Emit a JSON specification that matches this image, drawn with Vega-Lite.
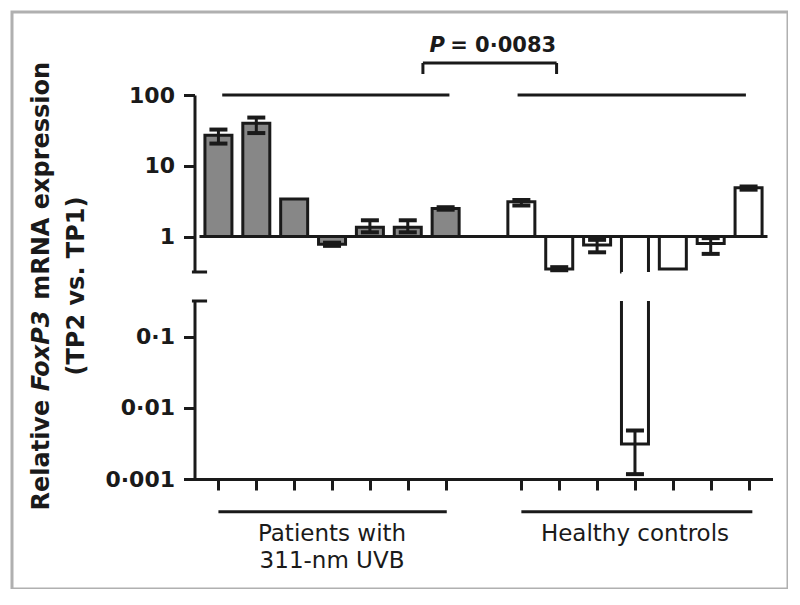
{
  "$schema": "https://vega.github.io/schema/vega-lite/v6.json",
  "width": 776,
  "height": 577,
  "autosize": "none",
  "padding": {"left": 12, "top": 12, "right": 0, "bottom": 0},
  "background": "white",
  "config": {
    "view": {"stroke": "#b0b0b0", "strokeWidth": 3, "fill": "white"},
    "axis": {
      "domainColor": "#1a1a1a", "tickColor": "#1a1a1a", "domainWidth": 3, "tickWidth": 3, "tickSize": 11,
      "labelFont": "DejaVu Sans", "labelFontWeight": "bold", "labelFontSize": 22, "labelColor": "#1a1a1a",
      "labelPadding": 9, "grid": false
    }
  },
  "datasets": {
    "bars": [
      {"pos": 1, "group": "Patients", "value": 27, "lo": 20.6, "hi": 32.5},
      {"pos": 2, "group": "Patients", "value": 40, "lo": 29, "hi": 48},
      {"pos": 3, "group": "Patients", "value": 3.4, "lo": null, "hi": null},
      {"pos": 4, "group": "Patients", "value": 0.78, "lo": 0.74, "hi": 0.82},
      {"pos": 5, "group": "Patients", "value": 1.35, "lo": 1.15, "hi": 1.7},
      {"pos": 6, "group": "Patients", "value": 1.35, "lo": 1.15, "hi": 1.7},
      {"pos": 7, "group": "Patients", "value": 2.5, "lo": 2.4, "hi": 2.6},
      {"pos": 9, "group": "Healthy controls", "value": 3.1, "lo": 2.75, "hi": 3.3},
      {"pos": 10, "group": "Healthy controls", "value": 0.35, "lo": 0.335, "hi": 0.37},
      {"pos": 11, "group": "Healthy controls", "value": 0.76, "lo": 0.6, "hi": 0.9},
      {"pos": 12, "group": "Healthy controls", "value": 0.0031, "lo": 0.00117, "hi": 0.0048},
      {"pos": 13, "group": "Healthy controls", "value": 0.35, "lo": null, "hi": null},
      {"pos": 14, "group": "Healthy controls", "value": 0.8, "lo": 0.57, "hi": 0.95},
      {"pos": 15, "group": "Healthy controls", "value": 4.9, "lo": 4.6, "hi": 5.1}
    ],
    "upperLines": [
      {"x": 0.5, "x2": 15.5, "y": 1, "y2": 1},
      {"x": 1.1, "x2": 7.1, "y": 100, "y2": 100},
      {"x": 8.9, "x2": 14.93, "y": 100, "y2": 100},
      {"x": 6.4, "x2": 9.93, "y": 283, "y2": 283},
      {"x": 6.4, "x2": 6.4, "y": 198, "y2": 283},
      {"x": 9.93, "x2": 9.93, "y": 198, "y2": 283},
      {"x": 0.3, "x2": 0.7, "y": 0.3162, "y2": 0.3162}
    ],
    "lowerLines": [
      {"x": 0.3, "x2": 0.7, "y": 0.3162, "y2": 0.3162},
      {"x": 1.0, "x2": 7.03, "y": 0.000347, "y2": 0.000347},
      {"x": 9.0, "x2": 15.1, "y": 0.000347, "y2": 0.000347}
    ],
    "groupLabels": [
      {"x": 4, "y": 0.0001346, "t": "Patients with"},
      {"x": 4, "y": 0.0000562, "t": "311-nm UVB"},
      {"x": 12, "y": 0.0001346, "t": "Healthy controls"}
    ],
    "pLabel": [
      {"x": 6.98, "rx": 7.12, "y": 401, "p": "P", "rest": "= 0·0083"}
    ],
    "yTitle": [
      {"x": -3.66, "y": 0.004969, "t": "Relative", "part": "a"},
      {"x": -3.66, "y": 0.00653, "t": "FoxP3", "part": "b"},
      {"x": -3.66, "y": 0.1281, "t": "mRNA expression", "part": "c"},
      {"x": -2.73, "y": 0.2004, "t": "(TP2 vs. TP1)", "part": "d"}
    ]
  },
  "layer": [
    {
      "data": {"name": "bars"},
      "transform": [{"filter": "datum.pos != 12"}],
      "mark": {"type": "bar", "width": 27, "stroke": "#1a1a1a", "strokeWidth": 3},
      "encoding": {
        "x": {
          "field": "pos", "type": "quantitative", "title": null,
          "scale": {"domain": [0.5, 15.5], "range": [182.5, 760.5], "nice": false, "zero": false},
          "axis": {"orient": "bottom", "offset": -110, "values": [1, 2, 3, 4, 5, 6, 7, 9, 10, 11, 12, 13, 14, 15], "labels": false, "title": null}
        },
        "y": {
          "field": "value", "type": "quantitative",
          "scale": {"type": "log", "domain": [0.3162, 100], "range": [260, 83], "nice": false, "zero": false, "clamp": true},
          "axis": {"orient": "left", "offset": -182.5, "values": [1, 10, 100], "labelExpr": "format(datum.value, 'd')", "title": null}
        },
        "y2": {"datum": 1},
        "fill": {"field": "group", "type": "nominal", "scale": {"domain": ["Patients", "Healthy controls"], "range": ["#878787", "#ffffff"]}, "legend": null}
      }
    },
    {
      "data": {"name": "bars"},
      "transform": [{"filter": "datum.pos == 12"}],
      "mark": {"type": "bar", "width": 27, "stroke": "#1a1a1a", "strokeWidth": 3, "fill": "white", "strokeDash": [0, 27, 35.4, 27, 35.4, 0]},
      "encoding": {
        "x": {"field": "pos", "type": "quantitative", "title": null},
        "y": {"field": "value", "type": "quantitative", "axis": null,
          "scale": {"type": "log", "domain": [0.3162, 100], "range": [260, 83], "nice": false, "zero": false, "clamp": true}},
        "y2": {"datum": 1}
      }
    },
    {
      "data": {"name": "bars"},
      "transform": [{"filter": "datum.lo != null && datum.pos != 12"}],
      "mark": {"type": "rule", "stroke": "#1a1a1a", "strokeWidth": 3},
      "encoding": {
        "x": {"field": "pos", "type": "quantitative", "title": null},
        "y": {"field": "lo", "type": "quantitative", "axis": null,
          "scale": {"type": "log", "domain": [0.3162, 100], "range": [260, 83], "nice": false, "zero": false}},
        "y2": {"field": "hi"}
      }
    },
    {
      "data": {"name": "bars"},
      "transform": [{"filter": "datum.lo != null && datum.pos != 12"}, {"fold": ["lo", "hi"], "as": ["k", "v"]}],
      "mark": {"type": "tick", "orient": "horizontal", "size": 18, "thickness": 4, "color": "#1a1a1a", "opacity": 1},
      "encoding": {
        "x": {"field": "pos", "type": "quantitative", "title": null},
        "y": {"field": "v", "type": "quantitative", "axis": null,
          "scale": {"type": "log", "domain": [0.3162, 100], "range": [260, 83], "nice": false, "zero": false}}
      }
    },
    {
      "data": {"name": "bars"},
      "transform": [{"filter": "datum.pos == 12"}],
      "mark": {"type": "bar", "width": 27, "stroke": "#1a1a1a", "strokeWidth": 3, "fill": "white", "strokeDash": [0, 27, 313, 0]},
      "encoding": {
        "x": {"field": "pos", "type": "quantitative", "title": null},
        "y": {"field": "value", "type": "quantitative",
          "scale": {"type": "log", "domain": [0.001, 0.3162], "range": [467, 289], "nice": false, "zero": false, "clamp": true},
          "axis": {"orient": "left", "offset": -182.5, "values": [0.001, 0.01, 0.1], "labelExpr": "replace(format(datum.value, '~g'), '.', '·')", "title": null}},
        "y2": {"datum": 1}
      }
    },
    {
      "data": {"name": "bars"},
      "transform": [{"filter": "datum.pos == 12"}],
      "mark": {"type": "rule", "stroke": "#1a1a1a", "strokeWidth": 3},
      "encoding": {
        "x": {"field": "pos", "type": "quantitative", "title": null},
        "y": {"field": "lo", "type": "quantitative", "axis": null,
          "scale": {"type": "log", "domain": [0.001, 0.3162], "range": [467, 289], "nice": false, "zero": false}},
        "y2": {"field": "hi"}
      }
    },
    {
      "data": {"name": "bars"},
      "transform": [{"filter": "datum.pos == 12"}, {"fold": ["lo", "hi"], "as": ["k", "v"]}],
      "mark": {"type": "tick", "orient": "horizontal", "size": 18, "thickness": 4, "color": "#1a1a1a", "opacity": 1},
      "encoding": {
        "x": {"field": "pos", "type": "quantitative", "title": null},
        "y": {"field": "v", "type": "quantitative", "axis": null,
          "scale": {"type": "log", "domain": [0.001, 0.3162], "range": [467, 289], "nice": false, "zero": false}}
      }
    },
    {
      "data": {"name": "upperLines"},
      "mark": {"type": "rule", "stroke": "#1a1a1a", "strokeWidth": 3},
      "encoding": {
        "x": {"field": "x", "type": "quantitative", "title": null},
        "x2": {"field": "x2"},
        "y": {"field": "y", "type": "quantitative", "axis": null,
          "scale": {"type": "log", "domain": [0.3162, 100], "range": [260, 83], "nice": false, "zero": false}},
        "y2": {"field": "y2"}
      }
    },
    {
      "data": {"name": "lowerLines"},
      "mark": {"type": "rule", "stroke": "#1a1a1a", "strokeWidth": 3},
      "encoding": {
        "x": {"field": "x", "type": "quantitative", "title": null},
        "x2": {"field": "x2"},
        "y": {"field": "y", "type": "quantitative", "axis": null,
          "scale": {"type": "log", "domain": [0.001, 0.3162], "range": [467, 289], "nice": false, "zero": false}},
        "y2": {"field": "y2"}
      }
    },
    {
      "data": {"name": "groupLabels"},
      "mark": {"type": "text", "font": "DejaVu Sans", "fontSize": 23, "color": "#1a1a1a", "align": "center", "baseline": "alphabetic"},
      "encoding": {
        "x": {"field": "x", "type": "quantitative", "title": null},
        "y": {"field": "y", "type": "quantitative", "axis": null,
          "scale": {"type": "log", "domain": [0.001, 0.3162], "range": [467, 289], "nice": false, "zero": false}},
        "text": {"field": "t"}
      }
    },
    {
      "data": {"name": "pLabel"},
      "mark": {"type": "text", "font": "DejaVu Sans", "fontSize": 21, "fontWeight": "bold", "fontStyle": "italic", "color": "#1a1a1a", "align": "right", "baseline": "alphabetic"},
      "encoding": {
        "x": {"field": "x", "type": "quantitative", "title": null},
        "y": {"field": "y", "type": "quantitative", "axis": null,
          "scale": {"type": "log", "domain": [0.3162, 100], "range": [260, 83], "nice": false, "zero": false}},
        "text": {"field": "p"}
      }
    },
    {
      "data": {"name": "pLabel"},
      "mark": {"type": "text", "font": "DejaVu Sans", "fontSize": 21, "fontWeight": "bold", "color": "#1a1a1a", "align": "left", "baseline": "alphabetic"},
      "encoding": {
        "x": {"field": "rx", "type": "quantitative", "title": null},
        "y": {"field": "y", "type": "quantitative", "axis": null,
          "scale": {"type": "log", "domain": [0.3162, 100], "range": [260, 83], "nice": false, "zero": false}},
        "text": {"field": "rest"}
      }
    },
    {
      "data": {"name": "yTitle"},
      "transform": [{"filter": "datum.part == 'a'"}],
      "mark": {"type": "text", "font": "DejaVu Sans", "fontSize": 24, "fontWeight": "bold", "color": "#1a1a1a", "angle": 270, "align": "right", "baseline": "middle"},
      "encoding": {
        "x": {"field": "x", "type": "quantitative", "title": null},
        "y": {"field": "y", "type": "quantitative", "axis": null,
          "scale": {"type": "log", "domain": [0.3162, 100], "range": [260, 83], "nice": false, "zero": false}},
        "text": {"field": "t"}
      }
    },
    {
      "data": {"name": "yTitle"},
      "transform": [{"filter": "datum.part == 'b'"}],
      "mark": {"type": "text", "font": "DejaVu Sans", "fontSize": 24, "fontWeight": "bold", "fontStyle": "italic", "color": "#1a1a1a", "angle": 270, "align": "left", "baseline": "middle"},
      "encoding": {
        "x": {"field": "x", "type": "quantitative", "title": null},
        "y": {"field": "y", "type": "quantitative", "axis": null,
          "scale": {"type": "log", "domain": [0.3162, 100], "range": [260, 83], "nice": false, "zero": false}},
        "text": {"field": "t"}
      }
    },
    {
      "data": {"name": "yTitle"},
      "transform": [{"filter": "datum.part == 'c'"}],
      "mark": {"type": "text", "font": "DejaVu Sans", "fontSize": 24, "fontWeight": "bold", "color": "#1a1a1a", "angle": 270, "align": "left", "baseline": "middle"},
      "encoding": {
        "x": {"field": "x", "type": "quantitative", "title": null},
        "y": {"field": "y", "type": "quantitative", "axis": null,
          "scale": {"type": "log", "domain": [0.3162, 100], "range": [260, 83], "nice": false, "zero": false}},
        "text": {"field": "t"}
      }
    },
    {
      "data": {"name": "yTitle"},
      "transform": [{"filter": "datum.part == 'd'"}],
      "mark": {"type": "text", "font": "DejaVu Sans", "fontSize": 24, "fontWeight": "bold", "color": "#1a1a1a", "angle": 270, "align": "center", "baseline": "middle"},
      "encoding": {
        "x": {"field": "x", "type": "quantitative", "title": null},
        "y": {"field": "y", "type": "quantitative", "axis": null,
          "scale": {"type": "log", "domain": [0.3162, 100], "range": [260, 83], "nice": false, "zero": false}},
        "text": {"field": "t"}
      }
    }
  ],
  "resolve": {"scale": {"y": "independent"}}
}
